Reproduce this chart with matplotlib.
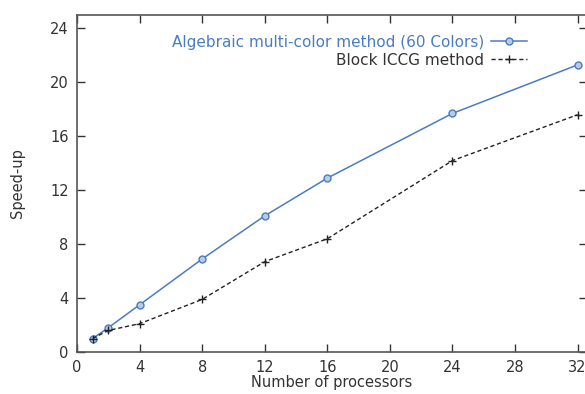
"""Speed-up vs number of processors: algebraic multi-color vs block ICCG."""
import matplotlib
matplotlib.use("Agg")
import matplotlib.pyplot as plt

procs = [1, 2, 4, 8, 12, 16, 24, 32]
speedup_amc = [1.0, 1.8, 3.5, 6.9, 10.1, 12.9, 17.7, 21.3]
speedup_iccg = [1.0, 1.6, 2.1, 3.9, 6.7, 8.4, 14.2, 17.6]

x_ticks = [0, 4, 8, 12, 16, 20, 24, 28, 32]
y_ticks = [0, 4, 8, 12, 16, 20, 24]

BLUE = "#4a7cc2"
GREY = "#333333"

plt.rcParams["font.family"] = ["DejaVu Sans"]

fig = plt.figure(figsize=(5.85, 3.94), dpi=100)
W, H = 585, 394
left, right, bottom, top = 77, 587, 352, 15
ax = fig.add_axes([left / W, 1 - bottom / H, (right - left) / W, (bottom - top) / H])

ax.plot(procs, speedup_amc, color=BLUE, lw=1.1, marker="o", ms=5,
        mfc="#b8cbe6", mec=BLUE, mew=1.0,
        label="Algebraic multi-color method (60 Colors)")
ax.plot(procs, speedup_iccg, color="#222222", lw=1.0, ls=(0, (3, 2)),
        marker="+", ms=6, mew=1.0, label="Block ICCG method")

ax.set_xlim(0, 32.6)
ax.set_ylim(0, 25)
ax.set_xticks(x_ticks)
ax.set_yticks(y_ticks)
ax.tick_params(direction="in", length=6, width=1.0, top=True, right=True,
               labelsize=10.5, colors=GREY, pad=6)
for s in ax.spines.values():
    s.set_linewidth(1.2)
    s.set_color("#555555")

ax.set_xlabel("Number of processors", fontsize=10.5, color=GREY, labelpad=0)
ax.set_ylabel("Speed-up", fontsize=10.5, color=GREY, labelpad=18)

leg = ax.legend(loc="upper right", bbox_to_anchor=(0.895, 0.96), frameon=False,
                fontsize=11, markerfirst=False, handlelength=2.4,
                handletextpad=0.45, labelspacing=0.2, borderaxespad=0)
leg.get_texts()[0].set_color(BLUE)
leg.get_texts()[1].set_color(GREY)

fig.savefig("out.png", dpi=100)
